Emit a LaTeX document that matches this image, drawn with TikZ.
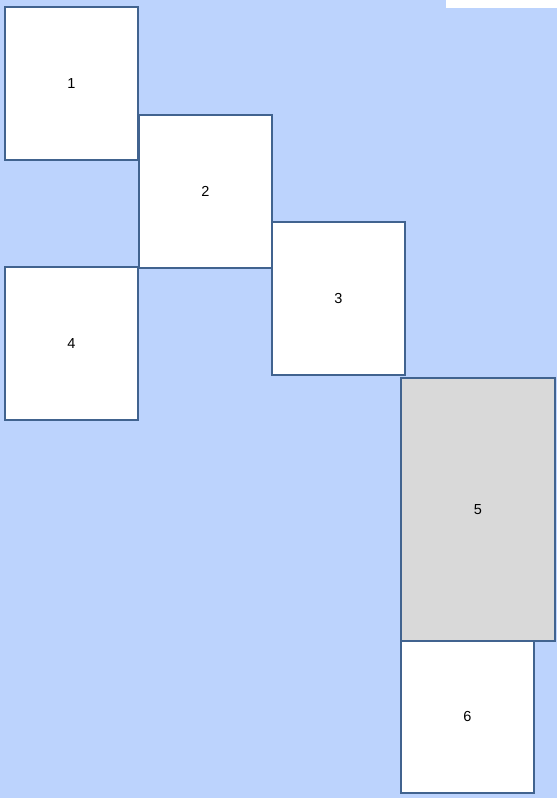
\documentclass[tikz,border=0pt]{standalone}
\usepackage{fontspec}
\setmainfont{Liberation Sans}
\usepackage{tikz}
\definecolor{pageblue}{HTML}{BCD3FD}
\definecolor{frameblue}{HTML}{41638F}
\definecolor{cellgray}{HTML}{D9D9D9}

\begin{document}
\begin{tikzpicture}[x=1pt,y=-1pt,font=\fontsize{14.5}{17}\selectfont,
  cell/.style={rectangle,fill=white,draw=frameblue,text=black,line width=1.6pt,anchor=north west,inner sep=0pt,minimum width=133pt,minimum height=153pt}]
\useasboundingbox (0,0) rectangle (557,798);
\fill[pageblue] (0,0) rectangle (557,798);
\fill[white] (446,0) rectangle (557,8);
\node[cell] (one) at (4,6) {1};
\node[cell] (two) at (138,114) {2};
\node[cell] (three) at (271,221) {3};
\node[cell] (four) at (4,266) {4};
\node[cell,minimum height=152pt] (six) at (400,640) {6};
\node[cell,fill=cellgray,minimum width=154pt,minimum height=263pt] (five) at (400,377) {5};
\end{tikzpicture}
\end{document}
